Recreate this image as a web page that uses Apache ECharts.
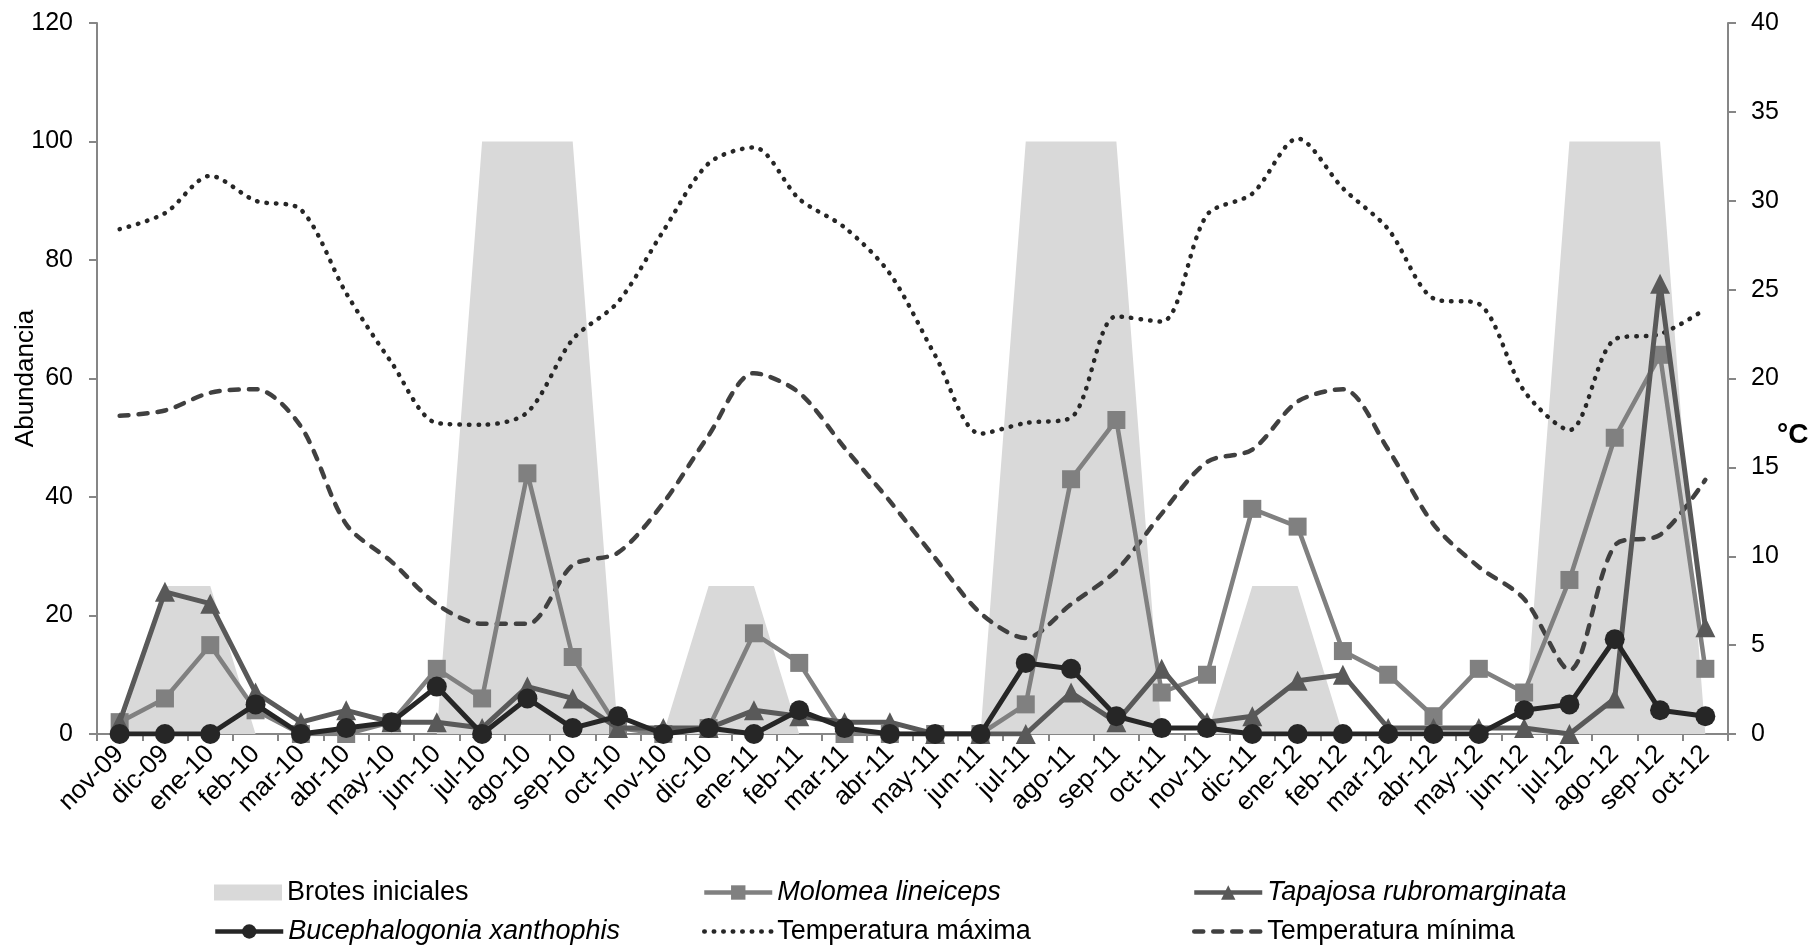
<!DOCTYPE html>
<html>
<head>
<meta charset="utf-8">
<script src="https://cdn.jsdelivr.net/npm/echarts@6/dist/echarts.min.js"></script>
<style>
  html, body { margin: 0; padding: 0; background: #fff; }
  #chart { width: 1812px; height: 951px; }
</style>
</head>
<body>
<div id="chart"></div>
<script>
const categories = ['nov-09','dic-09','ene-10','feb-10','mar-10','abr-10','may-10','jun-10','jul-10','ago-10','sep-10','oct-10',
  'nov-10','dic-10','ene-11','feb-11','mar-11','abr-11','may-11','jun-11','jul-11','ago-11','sep-11','oct-11',
  'nov-11','dic-11','ene-12','feb-12','mar-12','abr-12','may-12','jun-12','jul-12','ago-12','sep-12','oct-12'];

const brotes = [0,25,25,0,0,0,0,0,100,100,100,0, 0,25,25,0,0,0,0,0,100,100,100,0, 0,25,25,0,0,0,0,0,100,100,100,0];
const molomea = [2,6,15,4,0,0,2,11,6,44,13,1, 0,1,17,12,0,0,0,0,5,43,53,7, 10,38,35,14,10,3,11,7,26,50,64,11];
const tapajosa = [2,24,22,7,2,4,2,2,1,8,6,1, 1,1,4,3,2,2,0,0,0,7,2,11, 2,3,9,10,1,1,1,1,0,6,76,18];
const bucephalogonia = [0,0,0,5,0,1,2,8,0,6,1,3, 0,1,0,4,1,0,0,0,12,11,3,1, 1,0,0,0,0,0,0,4,5,16,4,3];
const tempMax = [28.4,29.3,31.4,30.0,29.5,24.8,20.9,17.5,17.4,18.1,22.2,24.3,
  28.3,32.1,33.0,30.1,28.5,25.9,21.3,16.9,17.5,17.8,23.5,23.2,
  29.2,30.4,33.5,30.7,28.4,24.5,24.2,19.3,17.1,22.2,22.5,23.9];
const tempMin = [17.9,18.2,19.2,19.4,17.3,11.8,9.7,7.3,6.2,6.2,9.5,10.2,
  13.0,16.8,20.3,19.2,16.1,13.1,9.9,6.8,5.4,7.3,9.2,12.4,
  15.3,16.0,18.7,19.4,16.0,11.8,9.4,7.6,3.6,10.6,11.2,14.3];

const abundMin = 0, abundMax = 120, abundStep = 20;
const tempAxisMin = 0, tempAxisMax = 40, tempAxisStep = 5;

const font = 'Liberation Sans';
const axisColor = '#868686';

let myChart = echarts.init(document.getElementById('chart'));

function legendBox(name, left, top, italic, extra) {
  return Object.assign({
    data: [name],
    left: left,
    top: top,
    padding: 0,
    itemWidth: 68,
    itemHeight: 18,
    lineStyle: { width: 4.5 },
    textStyle: {
      fontFamily: font,
      fontSize: 27,
      color: '#000',
      fontStyle: italic ? 'italic' : 'normal'
    }
  }, extra || {});
}

let option = {
  animation: false,
  backgroundColor: '#fff',
  grid: { left: 97, right: 84, top: 23, bottom: 217, containLabel: false, outerBoundsMode: 'none' },
  legend: [
    legendBox('Brotes iniciales', 214, 879, false, { icon: 'rect', itemHeight: 16 }),
    legendBox('Molomea lineiceps', 702, 879, true),
    legendBox('Tapajosa rubromarginata', 1192, 879, true),
    legendBox('Bucephalogonia xanthophis', 213, 918, true),
    legendBox('Temperatura máxima', 702, 918, false, { itemStyle: { color: 'rgba(0,0,0,0)', borderWidth: 0 } }),
    legendBox('Temperatura mínima', 1192, 918, false, { itemStyle: { color: 'rgba(0,0,0,0)', borderWidth: 0 } })
  ],
  xAxis: {
    type: 'category',
    data: categories,
    boundaryGap: true,
    axisLine: { lineStyle: { color: axisColor, width: 2 } },
    axisTick: { show: true, length: 7, alignWithLabel: false, lineStyle: { color: axisColor, width: 2 } },
    axisLabel: {
      interval: 0,
      rotate: 45,
      margin: 16,
      fontFamily: font,
      fontSize: 26,
      color: '#000'
    },
    splitLine: { show: false }
  },
  yAxis: [
    {
      type: 'value',
      min: abundMin,
      max: abundMax,
      interval: abundStep,
      name: 'Abundancia',
      nameLocation: 'middle',
      nameGap: 58,
      nameMoveOverlap: false,
      nameTextStyle: { fontFamily: font, fontSize: 26, color: '#000' },
      axisLine: { show: true, lineStyle: { color: axisColor, width: 2 } },
      axisTick: { show: true, length: 8, lineStyle: { color: axisColor, width: 2 } },
      axisLabel: { margin: 24, fontFamily: font, fontSize: 25, color: '#000' },
      splitLine: { show: false }
    },
    {
      type: 'value',
      position: 'right',
      min: tempAxisMin,
      max: tempAxisMax,
      interval: tempAxisStep,
      axisLine: { show: true, lineStyle: { color: axisColor, width: 2 } },
      axisTick: { show: true, length: 8, lineStyle: { color: axisColor, width: 2 } },
      axisLabel: { margin: 23, fontFamily: font, fontSize: 25, color: '#000' },
      splitLine: { show: false }
    }
  ],
  graphic: [
    {
      type: 'text',
      x: 1777,
      y: 435,
      style: {
        text: '°C',
        fontFamily: font,
        fontSize: 28,
        fontWeight: 'bold',
        fill: '#000',
        verticalAlign: 'middle'
      }
    }
  ],
  series: [
    {
      name: 'Brotes iniciales',
      type: 'line',
      data: brotes,
      symbol: 'none',
      itemStyle: { color: '#d9d9d9' },
      lineStyle: { width: 0, color: '#d9d9d9' },
      areaStyle: { color: '#d9d9d9', opacity: 1 },
      z: 1
    },
    {
      name: 'Temperatura máxima',
      type: 'line',
      yAxisIndex: 1,
      data: tempMax,
      smooth: 0.3,
      symbol: 'none',
      itemStyle: { color: '#262626' },
      lineStyle: { color: '#262626', width: 4.5, type: [0.5, 9], cap: 'round' },
      z: 2
    },
    {
      name: 'Temperatura mínima',
      type: 'line',
      yAxisIndex: 1,
      data: tempMin,
      smooth: 0.3,
      symbol: 'none',
      itemStyle: { color: '#404040' },
      lineStyle: { color: '#404040', width: 4.5, type: [9, 10], cap: 'round' },
      z: 2
    },
    {
      name: 'Molomea lineiceps',
      type: 'line',
      data: molomea,
      symbol: 'rect',
      symbolSize: 18,
      showAllSymbol: true,
      itemStyle: { color: '#808080' },
      lineStyle: { color: '#808080', width: 4.5 },
      z: 3
    },
    {
      name: 'Tapajosa rubromarginata',
      type: 'line',
      data: tapajosa,
      symbol: 'triangle',
      symbolSize: 20,
      showAllSymbol: true,
      itemStyle: { color: '#595959' },
      lineStyle: { color: '#595959', width: 5 },
      z: 4
    },
    {
      name: 'Bucephalogonia xanthophis',
      type: 'line',
      data: bucephalogonia,
      symbol: 'circle',
      symbolSize: 20,
      showAllSymbol: true,
      itemStyle: { color: '#262626' },
      lineStyle: { color: '#262626', width: 5 },
      z: 5
    }
  ]
};

myChart.setOption(option);
window.addEventListener('resize', function () { myChart.resize(); });
</script>
</body>
</html>
